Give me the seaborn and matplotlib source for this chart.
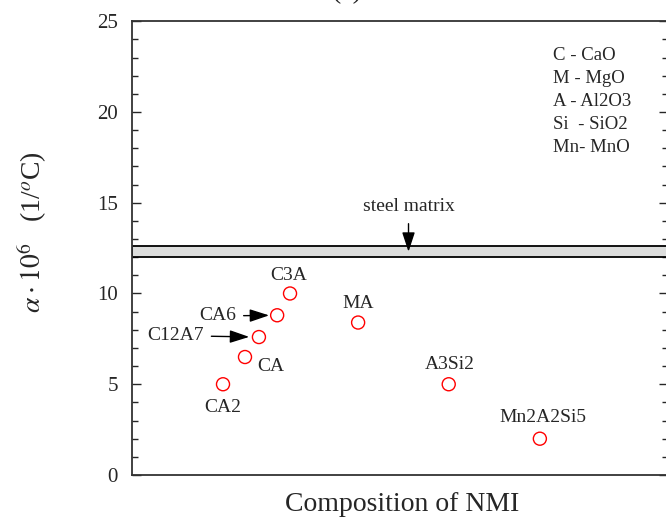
import matplotlib
matplotlib.use('Agg')
import matplotlib.pyplot as plt
import seaborn as sns
import pandas as pd

# данные
phases = ['CA2', 'CA', 'C12A7', 'CA6', 'C3A', 'MA', 'A3Si2', 'Mn2A2Si5']
composition = [1.70, 2.11, 2.37, 2.71, 2.95, 4.22, 5.91, 7.61]
alpha = [5.0, 6.5, 7.6, 8.8, 10.0, 8.4, 5.0, 2.0]
steel_low, steel_high = 12.0, 12.6
steel_x = 5.16
legend_lines = ['C - CaO', 'M - MgO', 'A - Al2O3', 'Si  - SiO2', 'Mn- MnO']

sns.set_style('ticks')
plt.rcParams['font.family'] = ['Liberation Serif', 'DejaVu Serif']
plt.rcParams['mathtext.fontset'] = 'stix'

df = pd.DataFrame({'x': composition, 'y': alpha, 'phase': phases})

fig = plt.figure(figsize=(6.66, 5.24), dpi=100)
ax = fig.add_axes([0.198, 0.0935, 0.805, 0.866])

ax.axhspan(steel_low, steel_high, facecolor='#dcdddc', edgecolor='black', lw=1.3, zorder=1)

sns.scatterplot(data=df, x='x', y='y', ax=ax, marker='o', s=88,
                facecolor='none', edgecolor='red', linewidth=1.0, zorder=3)

# подписи точек (смещения в пунктах)
offsets = {
    'CA2': (0, -17, 'center'),
    'CA': (9, -6.5, 'left'),
    'C3A': (-1, 13, 'center'),
    'MA': (0, 13.7, 'center'),
    'A3Si2': (0.5, 14.4, 'center'),
    'Mn2A2Si5': (2, 15, 'center'),
}
for ph, xv, yv in zip(phases, composition, alpha):
    if ph in offsets:
        dx, dy, ha = offsets[ph]
        ax.annotate(ph, (xv, yv), xytext=(dx, dy), textcoords='offset points',
                    ha=ha, va='center', fontsize=14)

head = '-|>,head_length=0.85,head_width=0.28'
ax.annotate('CA6', (composition[3], alpha[3]), xytext=(-29.5, -0.5), textcoords='offset points',
            ha='right', va='center', fontsize=14,
            arrowprops=dict(arrowstyle=head, color='black', lw=1.0, mutation_scale=14,
                            shrinkA=3, shrinkB=5.8))
ax.annotate('C12A7', (composition[2], alpha[2]), xytext=(-39.6, 1), textcoords='offset points',
            ha='right', va='center', fontsize=14,
            arrowprops=dict(arrowstyle=head, color='black', lw=1.0, mutation_scale=14,
                            shrinkA=3, shrinkB=7))

ax.annotate('steel matrix', (steel_x, (steel_low + steel_high) / 2), xytext=(steel_x, 14.8),
            ha='center', va='center', fontsize=14,
            arrowprops=dict(arrowstyle=head, color='black', lw=1.0, mutation_scale=14,
                            shrinkA=4, shrinkB=0))

for i, line in enumerate(legend_lines):
    ax.text(0.785, 0.925 - i * 0.0507, line, transform=ax.transAxes,
            ha='left', va='center', fontsize=13.5)

ax.set_xlim(0, 10)
ax.set_ylim(0, 25)
ax.set_yticks([0, 5, 10, 15, 20, 25])
ax.set_yticks([v for v in range(26) if v % 5], minor=True)
ax.set_xticks([])
ax.tick_params(axis='y', which='both', direction='in', left=True, right=True,
               labelsize=15, pad=10)
ax.tick_params(axis='y', which='major', length=6.5, width=1)
ax.tick_params(axis='y', which='minor', length=4.3, width=1)
for sp in ax.spines.values():
    sp.set_visible(True)
    sp.set_color('#333333')
    sp.set_linewidth(1.3)

ax.set_xlabel('Composition of NMI', fontsize=20, va='center')
ax.xaxis.set_label_coords(0.505, -0.066)
ax.set_ylabel(r'$\alpha\cdot10^{6}$   (1/$^{o}$C)', fontsize=20, va='center')
ax.yaxis.set_label_coords(-0.185, 0.535)

# заголовок панели обрезан сверху, как на исходном рисунке
fig.text(0.521, 1 + 2 / 524, '(a)', ha='center', va='baseline', fontsize=20)

fig.savefig('out.png', dpi=100)
